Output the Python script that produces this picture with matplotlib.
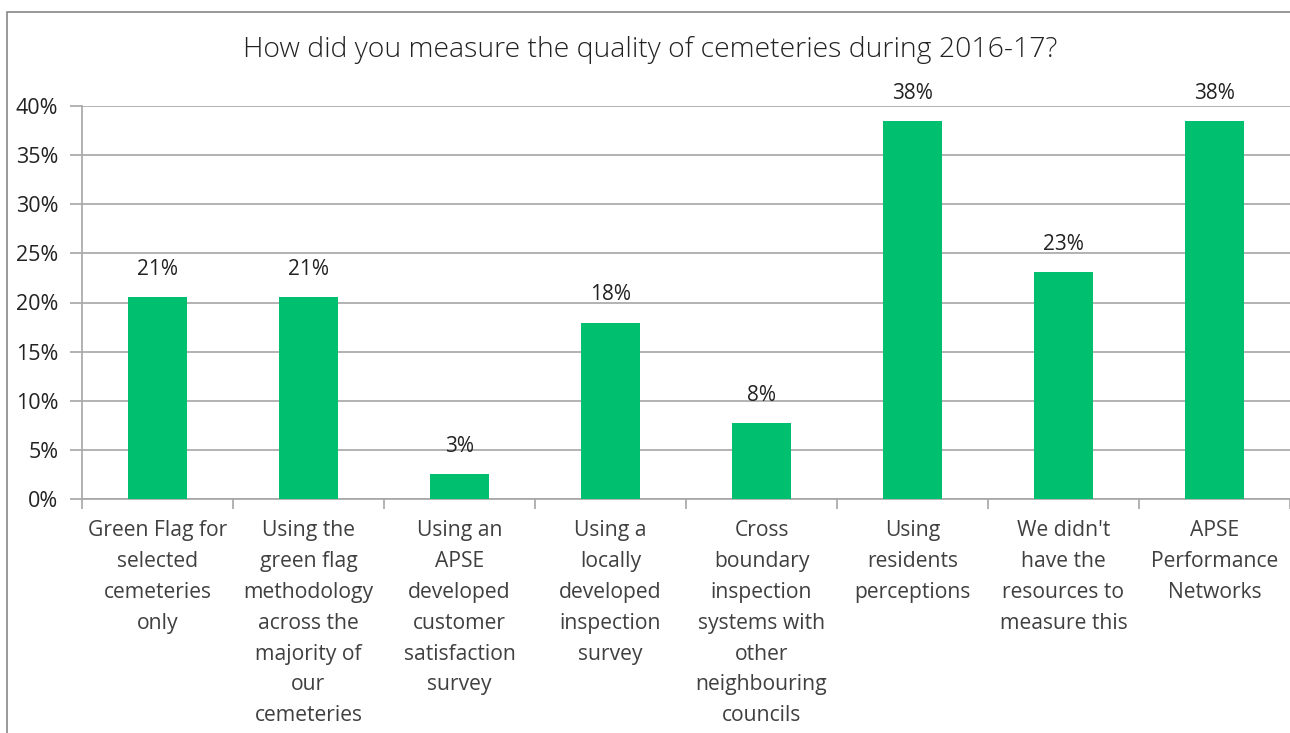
import matplotlib.pyplot as plt
from matplotlib.patches import Rectangle

# data (share of respondents, %)
categories = [
    "Green Flag for\nselected\ncemeteries\nonly",
    "Using the\ngreen flag\nmethodology\nacross the\nmajority of\nour\ncemeteries",
    "Using an\nAPSE\ndeveloped\ncustomer\nsatisfaction\nsurvey",
    "Using a\nlocally\ndeveloped\ninspection\nsurvey",
    "Cross\nboundary\ninspection\nsystems with\nother\nneighbouring\ncouncils",
    "Using\nresidents\nperceptions",
    "We didn't\nhave the\nresources to\nmeasure this",
    "APSE\nPerformance\nNetworks",
]
values = [20.51, 20.51, 2.56, 17.95, 7.69, 38.46, 23.08, 38.46]
title = "How did you measure the quality of cemeteries during 2016-17?"

plt.rcParams['font.family'] = ['Open Sans', 'DejaVu Sans']
text_col = '#404040'
grid_col = '#A6A6A6'

fig = plt.figure(figsize=(12.9, 7.33), dpi=100)
ax = fig.add_axes([82 / 1290, 1 - 499 / 733, 1 - 82 / 1290, (499 - 106) / 733])

x = list(range(len(categories)))
ax.bar(x, values, width=0.39, color='#00BF6F', zorder=3)
for xi, v in zip(x, values):
    ax.annotate(f"{v:.0f}%", (xi, v), xytext=(0, 20), textcoords='offset points',
                ha='center', va='center', fontsize=15, color='#222222')

ax.set_xlim(-0.5, len(categories) - 0.5)
ax.set_ylim(0, 40)
ax.set_yticks(range(0, 41, 5))
ax.set_yticklabels([f"{t}%" for t in range(0, 41, 5)], fontsize=15.5, color='#222222')
ax.yaxis.grid(True, color=grid_col, linewidth=1.2, zorder=0)
ax.tick_params(axis='y', length=9, width=1.2, color=grid_col, pad=8)

ax.set_xticks(x)
ax.set_xticklabels(categories, fontsize=15.2, color=text_col, linespacing=1.62, va='top')
ax.set_xticks([i - 0.5 for i in range(len(categories) + 1)], minor=True)
ax.tick_params(axis='x', which='major', length=0, pad=15)
ax.tick_params(axis='x', which='minor', length=7, width=1.2, color=grid_col)

for s in ['top', 'right']:
    ax.spines[s].set_visible(False)
for s in ['left', 'bottom']:
    ax.spines[s].set_color(grid_col)
    ax.spines[s].set_linewidth(1.2)

fig.text(650 / 1290, 1 - 50 / 733, title, ha='center', va='center', fontsize=20.4,
         color='#222222', fontweight='light')

# chart frame
fig.patches.append(Rectangle((7 / 1290, -0.02), 1.1, 1 - 12 / 733 + 0.02, transform=fig.transFigure,
                             fill=False, edgecolor='#888888', linewidth=1.2))

fig.savefig("out.png", dpi=100)
